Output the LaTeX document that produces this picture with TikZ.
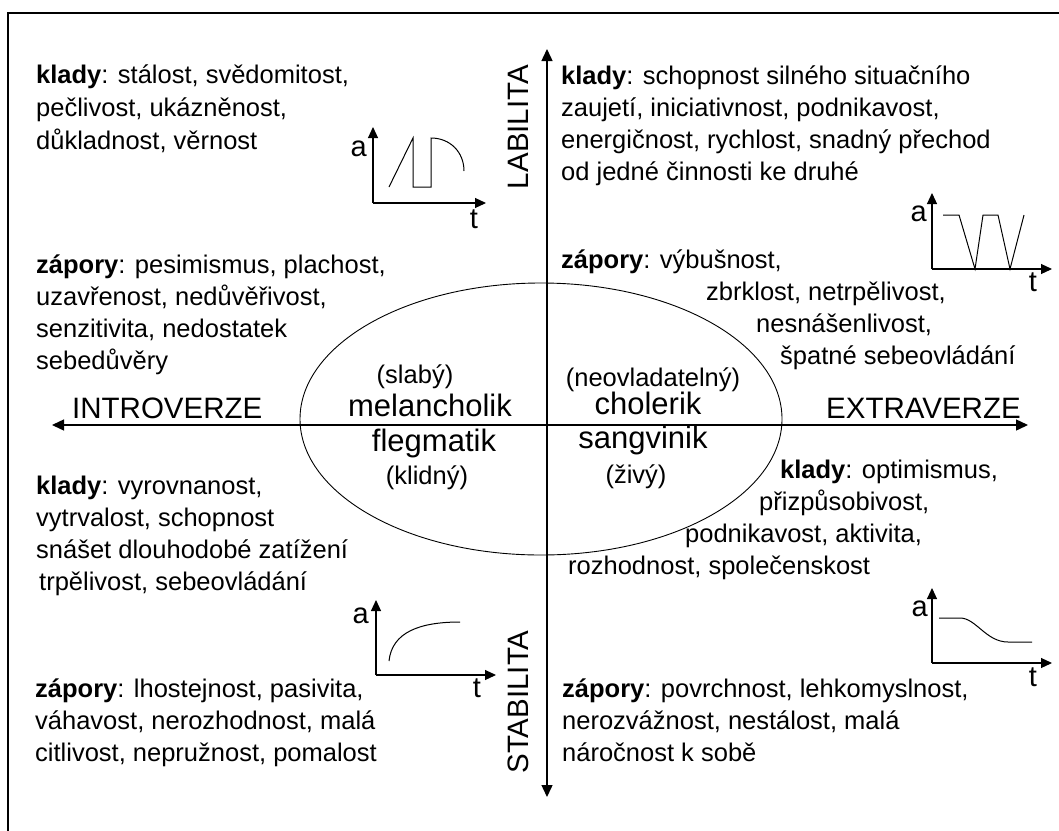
\documentclass[tikz,border=0pt]{standalone}
\usepackage{fontspec}
\setmainfont{Liberation Sans}
\usetikzlibrary{arrows.meta,shapes.geometric}
\newcommand\bodyfont{\fontsize{25.5}{32}\selectfont}
\newcommand\graphfont{\fontsize{29}{32}\selectfont}
\newcommand\typefont{\fontsize{31}{36}\selectfont}
\newcommand\axisfont{\fontsize{29.5}{32}\selectfont}

\begin{document}
\begin{tikzpicture}[x=1pt,y=-1pt,
  txt/.style={font=\bodyfont, inner sep=0pt, anchor=base west},
  lbl/.style={font=\bodyfont, inner sep=0pt},
  glbl/.style={font=\graphfont, inner sep=0pt},
  typ/.style={font=\typefont, inner sep=0pt},
  axislbl/.style={font=\axisfont, inner sep=0pt},
  axis/.style={line width=1.4pt, {Triangle[length=12pt,width=11pt]}-{Triangle[length=12pt,width=11pt]}},
  mini/.style={line width=1.1pt, -{Triangle[length=11pt,width=10pt]}},
  curve/.style={line width=1pt, line join=miter},
]
\useasboundingbox (0,0) rectangle (1059,830);
\clip (0,0) rectangle (1059,830);
\fill[white] (0,0) rectangle (1059,830);

% outer frame
\draw[line width=2pt] (8,12.5) rectangle (1080,850);

% temperament oval
\node[draw, ellipse, line width=0.9pt, minimum width=482pt, minimum height=272pt, inner sep=0pt] (temper) at (541,419) {};

% main axes
\coordinate (N) at (547,49);
\coordinate (S) at (547,797);
\coordinate (W) at (52,425);
\coordinate (E) at (1028,425);
\draw[axis] (S) -- (N);
\draw[axis] (W) -- (E);

\node[axislbl, anchor=base west] (intro) at (72,418) {INTROVERZE};
\node[axislbl, anchor=base west] (extra) at (826,418) {EXTRAVERZE};
\node[axislbl, rotate=90] (labil) at (518,127) {LABILITA};
\node[axislbl, rotate=90] (stabil) at (518,702) {STABILITA};

% temperament names
\node[lbl] (mel1) at (415,377) {(slabý)};
\node[typ] (mel) at (430,405) {melancholik};
\node[typ] (fleg) at (434,443) {flegmatik};
\node[lbl] (fleg1) at (427,478) {(klidný)};
\node[lbl] (chol1) at (653,380) {(neovladatelný)};
\node[typ] (chol) at (648,403) {cholerik};
\node[typ] (sang) at (643,440) {sangvinik};
\node[lbl] (sang1) at (636,477) {(živý)};

% melancholik
\node[txt] (mp1) at (36,83) {\textbf{klady}: stálost, svědomitost,};
\node[txt] (mp2) at (36,116) {pečlivost, ukázněnost,};
\node[txt] (mp3) at (36,149) {důkladnost, věrnost};
\node[txt] (mm1) at (36,273) {\textbf{zápory}: pesimismus, plachost,};
\node[txt] (mm2) at (36,305) {uzavřenost, nedůvěřivost,};
\node[txt] (mm3) at (36,337) {senzitivita, nedostatek};
\node[txt] (mm4) at (36,369) {sebedůvěry};

% cholerik
\node[txt] (cp1) at (561,84) {\textbf{klady}: schopnost silného situačního};
\node[txt] (cp2) at (561,116) {zaujetí, iniciativnost, podnikavost,};
\node[txt] (cp3) at (561,148) {energičnost, rychlost, snadný přechod};
\node[txt] (cp4) at (561,180) {od jedné činnosti ke druhé};
\node[txt] (cm1) at (561,268) {\textbf{zápory}: výbušnost,};
\node[txt] (cm2) at (706,300) {zbrklost, netrpělivost,};
\node[txt] (cm3) at (756,332) {nesnášenlivost,};
\node[txt] (cm4) at (780,364) {špatné sebeovládání};

% flegmatik
\node[txt] (fp1) at (36,494) {\textbf{klady}: vyrovnanost,};
\node[txt] (fp2) at (36,526) {vytrvalost, schopnost};
\node[txt] (fp3) at (36,558) {snášet dlouhodobé zatížení};
\node[txt] (fp4) at (39,590) {trpělivost, sebeovládání};
\node[txt] (fm1) at (35,697) {\textbf{zápory}: lhostejnost, pasivita,};
\node[txt] (fm2) at (35,729) {váhavost, nerozhodnost, malá};
\node[txt] (fm3) at (35,761) {citlivost, nepružnost, pomalost};

% sangvinik
\node[txt] (sp1) at (780,478) {\textbf{klady}: optimismus,};
\node[txt] (sp2) at (759,510) {přizpůsobivost,};
\node[txt] (sp3) at (685,542) {podnikavost, aktivita,};
\node[txt] (sp4) at (568,574) {rozhodnost, společenskost};
\node[txt] (sm1) at (562,697) {\textbf{zápory}: povrchnost, lehkomyslnost,};
\node[txt] (sm2) at (562,729) {nerozvážnost, nestálost, malá};
\node[txt] (sm3) at (562,761) {náročnost k sobě};

% activity curve: melancholik
\coordinate (g1o) at (373,203);
\coordinate (g1y) at (373,127);
\coordinate (g1x) at (486,203);
\draw[mini] (g1o) -- (g1y);
\draw[mini] (g1o) -- (g1x);
\node[glbl, anchor=base east] (g1a) at (367,156) {a};
\node[glbl, anchor=base] (g1t) at (474,228) {t};
\draw[curve] (389,187) -- (413,138) -- (413,187) -- (431,187) -- (431,138)
  .. controls (450,138) and (464,152) .. (464,171);

% activity curve: cholerik
\coordinate (g2o) at (932,269);
\coordinate (g2y) at (932,193);
\coordinate (g2x) at (1052,269);
\draw[mini] (g2o) -- (g2y);
\draw[mini] (g2o) -- (g2x);
\node[glbl, anchor=base east] (g2a) at (927,221) {a};
\node[glbl, anchor=base] (g2t) at (1033,291) {t};
\draw[curve] (943,215) -- (959,215) -- (975,269) -- (983,215) -- (998,215) -- (1010,269) -- (1024,215);

% activity curve: flegmatik
\coordinate (g3o) at (376,675);
\coordinate (g3y) at (376,600);
\coordinate (g3x) at (496,675);
\draw[mini] (g3o) -- (g3y);
\draw[mini] (g3o) -- (g3x);
\node[glbl, anchor=base east] (g3a) at (369,623) {a};
\node[glbl, anchor=base] (g3t) at (477,697) {t};
\draw[curve] (389,661) .. controls (392,632) and (420,622) .. (460,622);

% activity curve: sangvinik
\coordinate (g4o) at (932,663);
\coordinate (g4y) at (932,588);
\coordinate (g4x) at (1052,663);
\draw[mini] (g4o) -- (g4y);
\draw[mini] (g4o) -- (g4x);
\node[glbl, anchor=base east] (g4a) at (928,616) {a};
\node[glbl, anchor=base] (g4t) at (1033,686) {t};
\draw[curve] (939,618) -- (960,618) .. controls (976,618) and (986,642) .. (1008,642) -- (1032,642);

\end{tikzpicture}
\end{document}
